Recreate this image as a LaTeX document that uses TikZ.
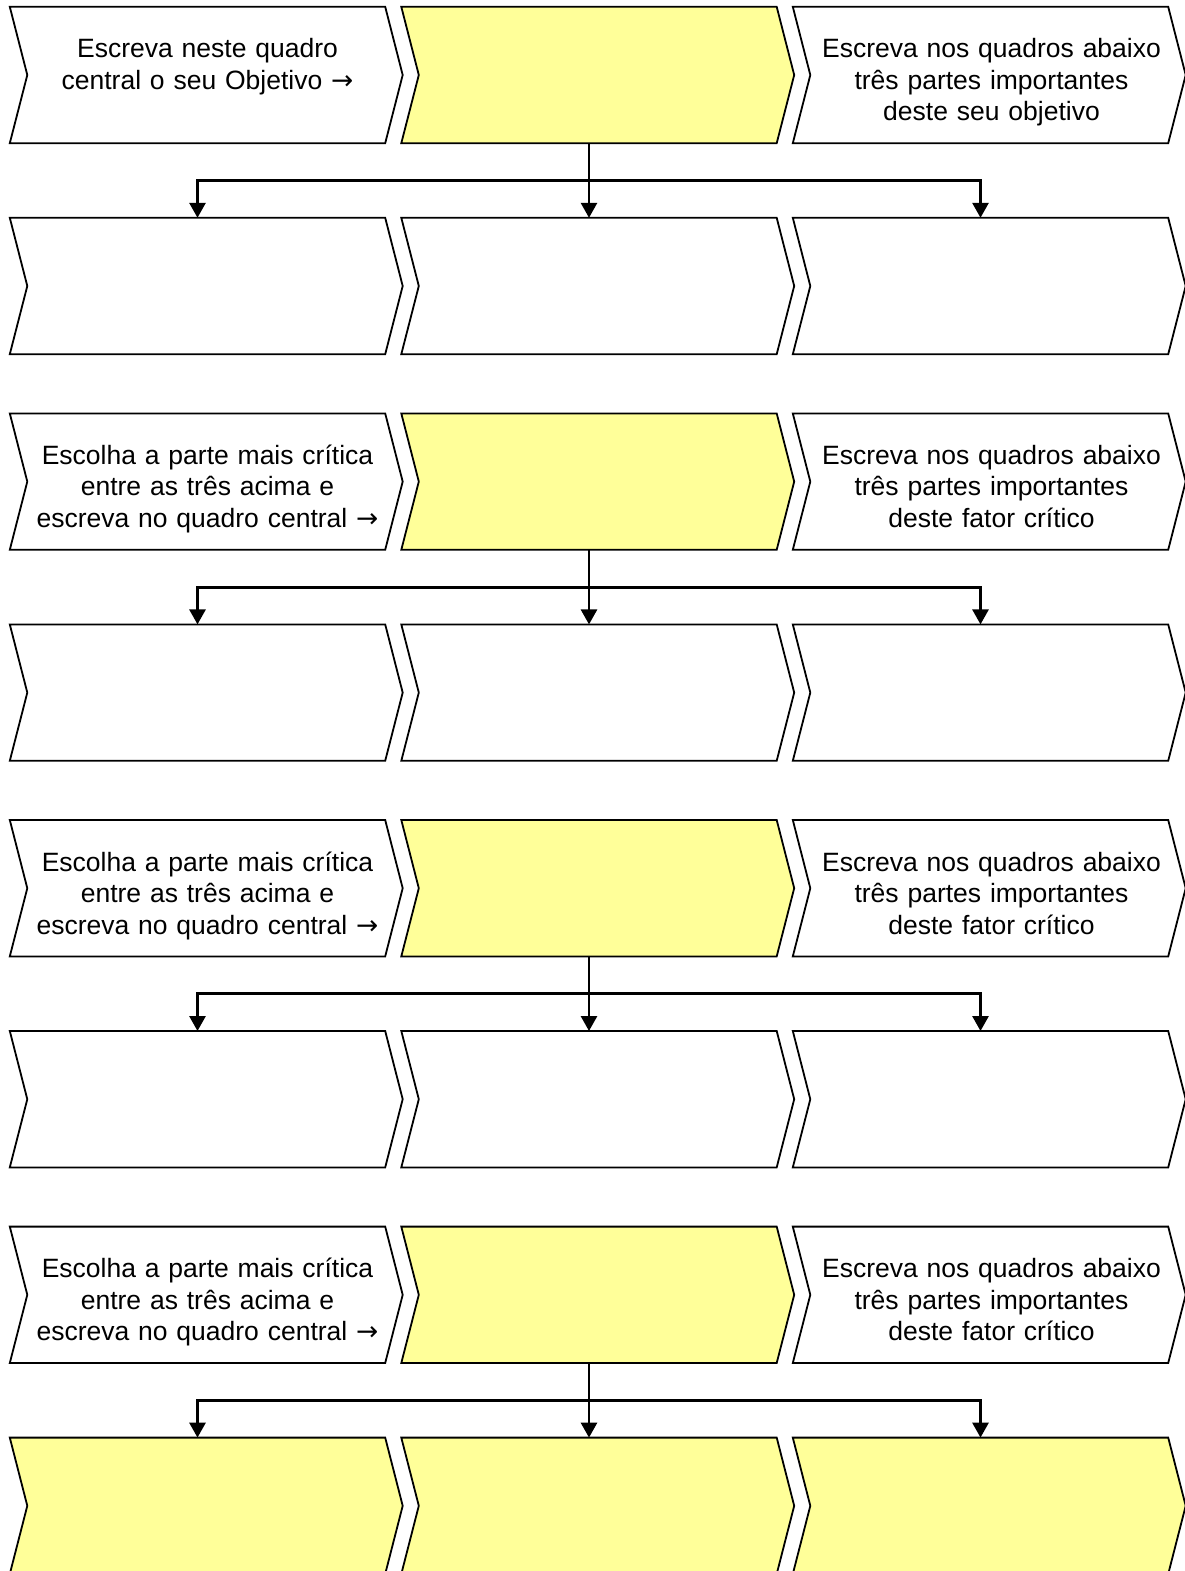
\documentclass[tikz,border=0pt]{standalone}
\usepackage{fontspec}
\setmainfont{Liberation Sans}
\newfontfamily\arrowfont{DejaVu Sans}
\usetikzlibrary{arrows.meta,calc}

\definecolor{paleyellow}{HTML}{FFFF99}

\tikzset{
	body/.style={rectangle, minimum width=375pt, minimum height=136pt, inner sep=0pt},
	chev/.style={draw=black, line width=1.8pt, line join=miter},
	note/.style={text width=370pt, align=center, inner sep=0pt, anchor=base,
		font=\fontsize{26.5}{31.5}\selectfont},
	flow/.style={line width=2.8pt, -{Triangle[width=16pt,length=15pt]}},
}

\newcommand{\drawchev}[2]{%
	\draw[chev, fill=#2] (#1.north west) -- (#1.north east) -- ([xshift=17.5pt]#1.east)
		-- (#1.south east) -- (#1.south west) -- ([xshift=17.5pt]#1.west) -- cycle;
}
\newcommand{\rarr}{{\arrowfont →}}

\begin{document}
\begin{tikzpicture}[x=1pt,y=-1pt]
	\useasboundingbox (0,0) rectangle (1184,1571);

	\foreach \g in {0,...,3}{
		\foreach \c/\uc in {1/white,2/paleyellow,3/white}{
			\node[body] (u\g-\c) at ({197.5+391.5*(\c-1)}, {75+406.6*\g}) {};
			\drawchev{u\g-\c}{\uc}
		}
	}
	\foreach \g/\dc in {0/white,1/white,2/white,3/paleyellow}{
		\foreach \c in {1,2,3}{
			\node[body] (d\g-\c) at ({197.5+391.5*(\c-1)}, {286+406.6*\g}) {};
			\drawchev{d\g-\c}{\dc}
		}
	}

	\node[note] (t0-1) at ($(u0-1.north)+(10,51)$) {Escreva neste quadro\\central o seu Objetivo \rarr};
	\node[note] (t0-3) at ($(u0-3.north)+(11,51)$) {Escreva nos quadros abaixo\\três partes importantes\\deste seu objetivo};
	\foreach \g in {1,2,3}{
		\node[note] (t\g-1) at ($(u\g-1.north)+(10,51)$) {Escolha a parte mais crítica\\entre as três acima e\\escreva no quadro central \rarr};
		\node[note] (t\g-3) at ($(u\g-3.north)+(11,51)$) {Escreva nos quadros abaixo\\três partes importantes\\deste fator crítico};
	}

	\foreach \g in {0,...,3}{
		\coordinate (s\g) at ($(u\g-2.south)!0.5!(d\g-2.north)$);
		\draw[flow] (u\g-2.south) -- (d\g-2.north);
		\draw[flow] (s\g) -| (d\g-1.north);
		\draw[flow] (s\g) -| (d\g-3.north);
	}
\end{tikzpicture}
\end{document}
